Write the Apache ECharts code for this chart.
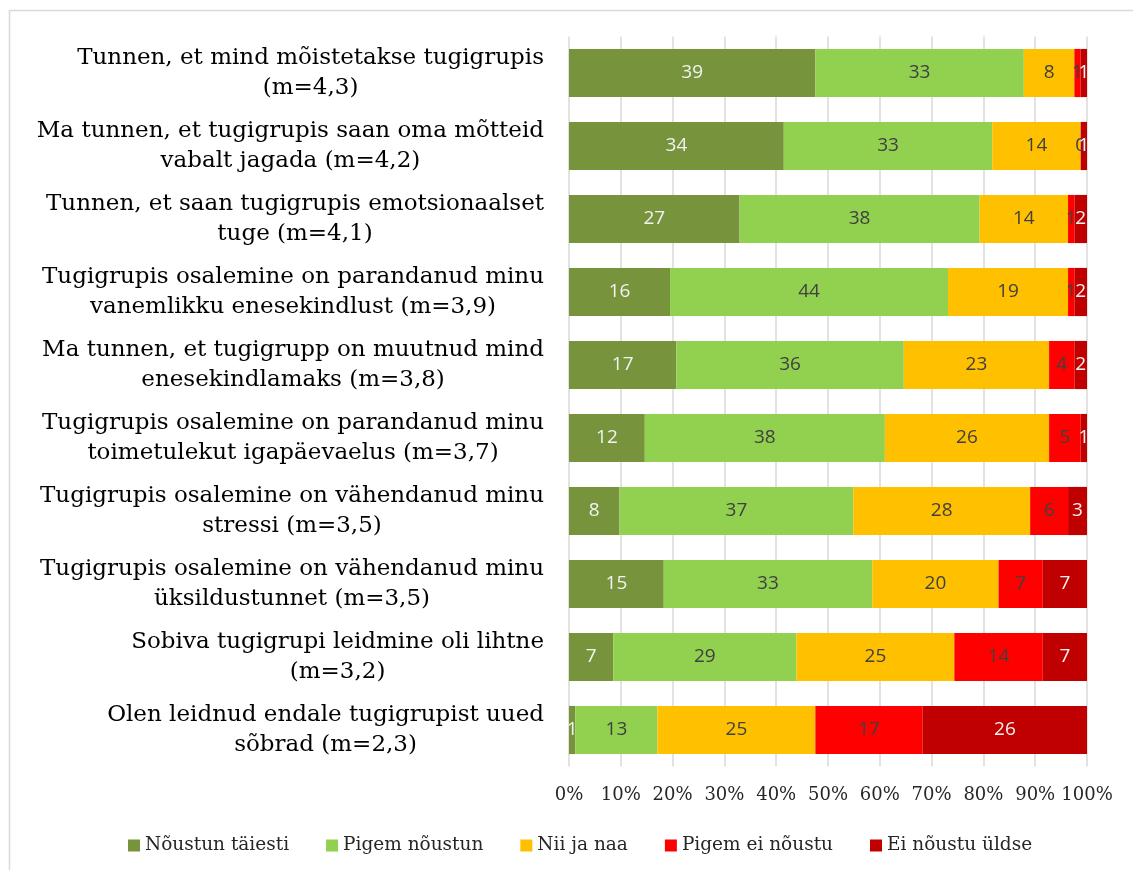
<!DOCTYPE html>
<html><head><meta charset="utf-8">
<script src="https://cdn.jsdelivr.net/npm/echarts@6/dist/echarts.min.js"></script>
<style>html,body{margin:0;padding:0;background:#fff}#c{width:1133px;height:870px}</style>
</head><body><div id="c"></div>
<script>
const categories = [
  "Tunnen, et mind mõistetakse tugigrupis\n(m=4,3)",
  "Ma tunnen, et tugigrupis saan oma mõtteid\nvabalt jagada (m=4,2)",
  "Tunnen, et saan tugigrupis emotsionaalset\ntuge (m=4,1)",
  "Tugigrupis osalemine on parandanud minu\nvanemlikku enesekindlust (m=3,9)",
  "Ma tunnen, et tugigrupp on muutnud mind\nenesekindlamaks (m=3,8)",
  "Tugigrupis osalemine on parandanud minu\ntoimetulekut igapäevaelus (m=3,7)",
  "Tugigrupis osalemine on vähendanud minu\nstressi (m=3,5)",
  "Tugigrupis osalemine on vähendanud minu\nüksildustunnet (m=3,5)",
  "Sobiva tugigrupi leidmine oli lihtne\n(m=3,2)",
  "Olen leidnud endale tugigrupist uued\nsõbrad (m=2,3)"
];
const seriesNames = ["Nõustun täiesti","Pigem nõustun","Nii ja naa","Pigem ei nõustu","Ei nõustu üldse"];
const noustunTaiesti = [39,34,27,16,17,12,8,15,7,1];
const pigemNoustun   = [33,33,38,44,36,38,37,33,29,13];
const niiJaNaa       = [8,14,14,19,23,26,28,20,25,25];
const pigemEiNoustu  = [1,0,1,1,4,5,6,7,14,17];
const eiNoustuUldse  = [1,1,2,2,2,1,3,7,7,26];
const xTickLabels = ["0%","10%","20%","30%","40%","50%","60%","70%","80%","90%","100%"];

const seriesValues = [noustunTaiesti,pigemNoustun,niiJaNaa,pigemEiNoustu,eiNoustuUldse];
const colors = ["#77933C","#92D050","#FFC000","#FF0000","#C00000"];
const labelColors = ["#f2f2f2","#404040","#404040","#404040","#f2f2f2"];
const totals = categories.map((_,i)=>seriesValues.reduce((s,a)=>s+a[i],0));
const SERIF = '"DejaVu Serif", "Liberation Serif", serif';

const series = seriesNames.map((name,k)=>({
  name, type:'bar', stack:'all', barCategoryGap:'34%',
  itemStyle:{color:colors[k]},
  data: seriesValues[k].map((v,i)=>({value: v/totals[i]*100, raw: v})),
  label:{show:true, position:'inside', color:labelColors[k], fontFamily:'"Open Sans", Lato, sans-serif', fontSize:19,
    formatter: p => String(p.data.raw)},
  emphasis:{disabled:true}
}));

const chart = echarts.init(document.getElementById('c'), null, {renderer:'canvas'});
chart.setOption({
  animation:false,
  graphic:[{type:'rect', shape:{x:9.5,y:10.5,width:1300,height:1000}, style:{fill:'none', stroke:'#d9d9d9', lineWidth:1.5}, silent:true}],
  grid:{left:569, right:46, top:36.5, bottom:103.5, containLabel:false},
  legend:{
    data: seriesNames, left:123, top:831, icon:'rect', itemWidth:12, itemHeight:12, itemGap:37,
    textStyle:{fontFamily:SERIF, fontSize:18.5, color:'#262626'}
  },
  xAxis:{
    type:'value', min:0, max:100, interval:10,
    axisLine:{show:false}, axisTick:{show:false},
    splitLine:{show:true, lineStyle:{color:'#d9d9d9', width:1.5}},
    axisLabel:{margin:20, fontFamily:SERIF, fontSize:18, color:'#262626',
      formatter: v => xTickLabels[Math.round(v/10)]}
  },
  yAxis:{
    type:'category', data:categories, inverse:true,
    axisLine:{show:false}, axisTick:{show:false},
    axisLabel:{
      margin:25, align:'right', lineHeight:30,
      formatter: v => v.split('\n').map(l=>'{c|'+l+'}').join('\n'),
      rich:{c:{align:'center', fontFamily:SERIF, fontSize:23, lineHeight:30, color:'#000'}}
    }
  },
  series
});
</script></body></html>
